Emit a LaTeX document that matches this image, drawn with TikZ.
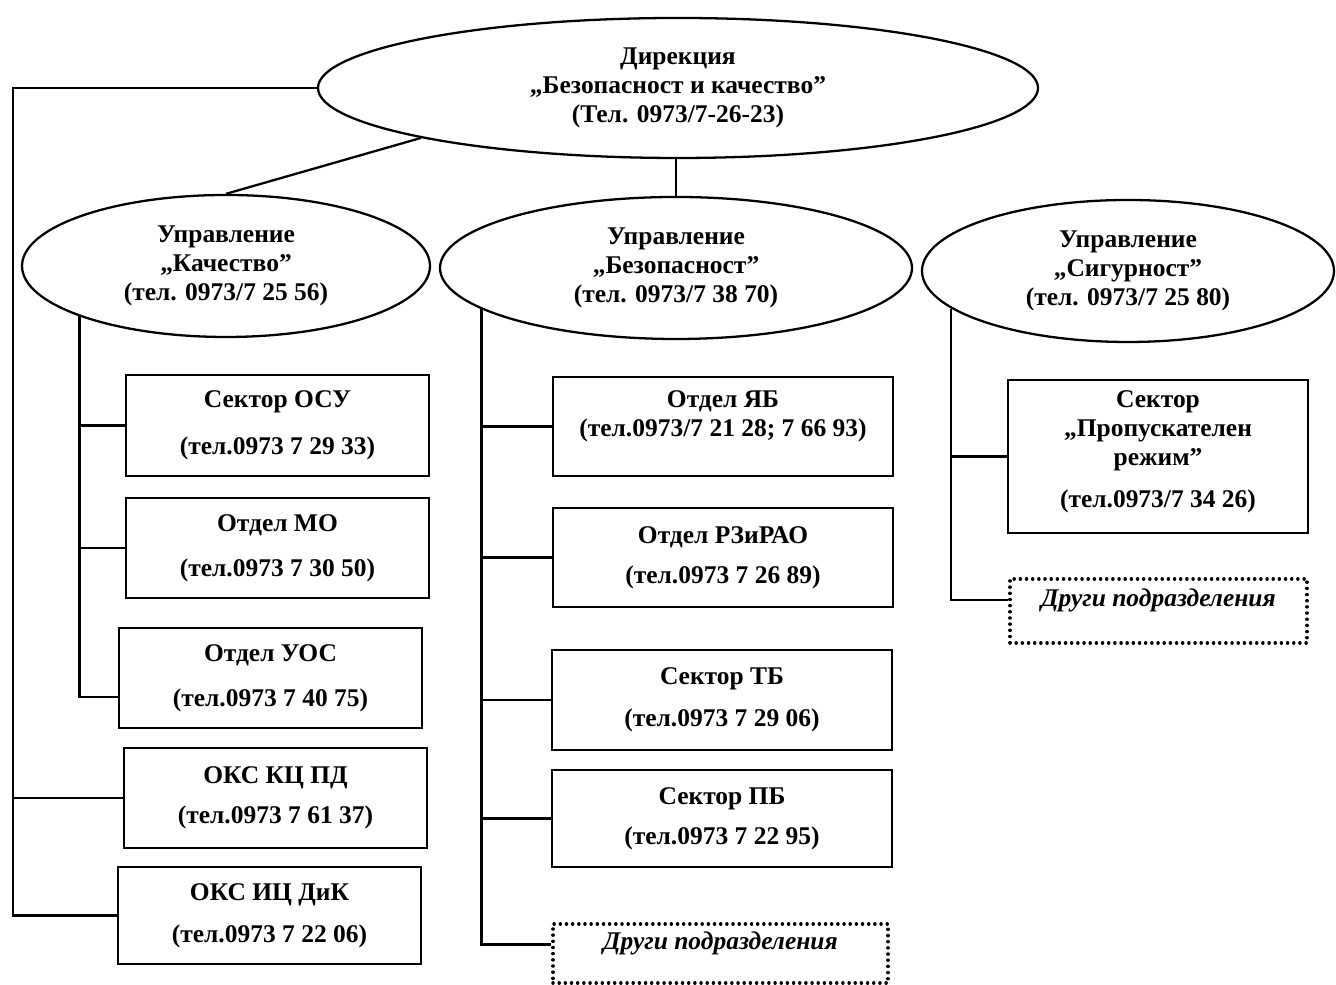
\documentclass[tikz,border=0pt]{standalone}
\usepackage{fontspec}
\setmainfont{Liberation Serif}
\usepackage{tikz}
\usetikzlibrary{shapes.geometric}

\begin{document}
\begin{tikzpicture}[
  every node/.style={font=\bfseries\fontsize{14.5}{16.5}\selectfont},
  upr/.style={draw, ellipse, line width=1.3pt, inner sep=0pt, align=center},
  unitbox/.style={draw, rectangle, line width=1.3pt, inner sep=0pt},
  otherbox/.style={draw, rectangle, line width=2pt, line cap=round,
                   dash pattern=on 0.01pt off 3.5pt, inner sep=0pt,
                   font=\bfseries\itshape\fontsize{14.5}{16.5}\selectfont},
  conn/.style={line width=1.3pt}]

\useasboundingbox (0,0) rectangle (26.72,19.70);

\draw (13.56, 17.94)
  node[upr, minimum width=14.4cm, minimum height=2.8cm] (dir) {
Дирекция\\„Безопасност и качество”\\(Тел. 0973/7-26-23)
};
\draw (4.52, 14.38)
  node[upr, minimum width=8.16cm, minimum height=2.84cm] (kach) {
Управление\\„Качество”\\(тел. 0973/7 25 56)
};
\draw (13.52, 14.34)
  node[upr, minimum width=9.44cm, minimum height=2.84cm] (bez) {
Управление\\„Безопасност”\\(тел. 0973/7 38 70)
};
\draw (22.56, 14.28)
  node[upr, minimum width=8.24cm, minimum height=2.84cm] (sig) {
Управление\\„Сигурност”\\(тел. 0973/7 25 80)
};

\draw (5.55, 11.19) node[unitbox] (osu) {

\begin{minipage}[c][2.02cm][c]{6.06cm}
\centering Сектор ОСУ\\[10pt](тел.0973 7 29 33)
\end{minipage}

};
\draw (5.55, 8.74) node[unitbox] (mo) {

\begin{minipage}[c][2.0cm][c]{6.06cm}
\centering Отдел МО\\[9pt](тел.0973 7 30 50)
\end{minipage}

};
\draw (5.41, 6.14) node[unitbox] (uos) {

\begin{minipage}[c][2.0cm][c]{6.06cm}
\centering Отдел УОС\\[9pt](тел.0973 7 40 75)
\end{minipage}

};
\draw (5.51, 3.74) node[unitbox] (kcpd) {

\begin{minipage}[c][2.0cm][c]{6.06cm}
\centering ОКС КЦ ПД\\[6.2pt](тел.0973 7 61 37)
\end{minipage}

};
\draw (5.39, 1.39) node[unitbox] (iczd) {

\begin{minipage}[c][1.94cm][c]{6.06cm}
\centering ОКС ИЦ ДиК\\[7.3pt](тел.0973 7 22 06)
\end{minipage}

};

\draw (14.46, 11.17) node[unitbox] (yab) {

\begin{minipage}[c][1.98cm][c]{6.8cm}
\centering Отдел ЯБ\\(тел.0973/7 21 28; 7 66 93)\par\vspace{0.4cm}
\end{minipage}

};
\draw (14.46, 8.55) node[unitbox] (rzirao) {

\begin{minipage}[c][1.98cm][c]{6.8cm}
\centering Отдел РЗиРАО\\[6.2pt](тел.0973 7 26 89)
\end{minipage}

};
\draw (14.44, 5.70) node[unitbox] (tb) {

\begin{minipage}[c][2.0cm][c]{6.8cm}
\centering Сектор ТБ\\[7.3pt](тел.0973 7 29 06)
\end{minipage}

};
\draw (14.44, 3.33) node[unitbox] (pb) {

\begin{minipage}[c][1.94cm][c]{6.8cm}
\centering Сектор ПБ\\[6.2pt](тел.0973 7 22 95)
\end{minipage}

};
\draw (14.41, 0.63) node[otherbox] (drugi1) {

\begin{minipage}[c][1.18cm][c]{6.7cm}
\centering Други подразделения\par\vspace{0.4cm}
\end{minipage}

};

\draw (23.16, 10.57) node[unitbox] (prop) {

\begin{minipage}[c][3.06cm][c]{6.0cm}
\centering Сектор\\„Пропускателен\\режим”\\[7.3pt](тел.0973/7 34 26)\par\vspace{0.2cm}
\end{minipage}

};
\draw (23.17, 7.48) node[otherbox] (drugi2) {

\begin{minipage}[c][1.28cm][c]{5.94cm}
\centering Други подразделения\par\vspace{0.44cm}
\end{minipage}

};

\coordinate (lbus) at (0.26, 0);
\draw[conn] (dir.191) -- (kach.north);
\draw[conn] (bez.north) -- (bez.north |- dir.south);
\draw[conn] (dir.west) -- (dir.west -| lbus) |- (iczd.west);
\draw[conn] (kcpd.west) -- (kcpd.west -| lbus);

\draw[conn] (kach.199) |- ([yshift=-0.38cm]uos.west);
\draw[conn] (osu.west) -- (osu.west -| kach.199);
\draw[conn] (mo.west) -- (mo.west -| kach.199);

\draw[conn] (bez.192) |- ([yshift=0.18cm]drugi1.west);
\draw[conn] (yab.west) -- (yab.west -| bez.192);
\draw[conn] (rzirao.west) -- (rzirao.west -| bez.192);
\draw[conn] (tb.west) -- (tb.west -| bez.192);
\draw[conn] (pb.west) -- (pb.west -| bez.192);

\draw[conn] (sig.192) |- ([yshift=0.22cm]drugi2.west);
\draw[conn] (prop.west) -- (prop.west -| sig.192);
\end{tikzpicture}
\end{document}
